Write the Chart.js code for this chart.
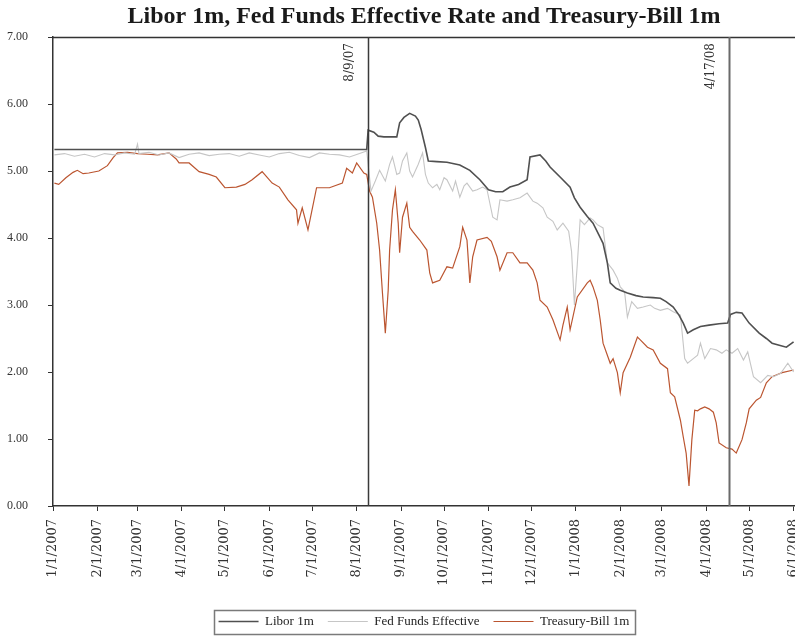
<!DOCTYPE html>
<html>
<head>
<meta charset="utf-8">
<script src="https://cdn.jsdelivr.net/npm/chart.js@4.4.1/dist/chart.umd.min.js"></script>
<style>
  html, body { margin: 0; padding: 0; background: #ffffff; }
  #wrap { width: 795px; height: 642px; position: relative; }
</style>
</head>
<body>
<div id="wrap"><canvas id="rates" width="795" height="642"></canvas></div>
<script>
// Month-start tick labels along the date axis
const monthTicks = [
  '1/1/2007', '2/1/2007', '3/1/2007', '4/1/2007', '5/1/2007', '6/1/2007',
  '7/1/2007', '8/1/2007', '9/1/2007', '10/1/2007', '11/1/2007', '12/1/2007',
  '1/1/2008', '2/1/2008', '3/1/2008', '4/1/2008', '5/1/2008', '6/1/2008'
];

// Marked event dates and their captions
const eventDates = ['2007-08-09', '2008-04-17'];
const eventLabels = ['8/9/07', '4/17/08'];

// Libor 1m (%)
const liborDates = [
  '2007-01-02', '2007-02-01', '2007-03-01', '2007-04-02', '2007-05-01', '2007-06-01',
  '2007-07-02', '2007-08-01', '2007-08-08',
  '2007-08-09', '2007-08-13', '2007-08-16', '2007-08-20', '2007-08-29', '2007-08-31',
  '2007-09-03', '2007-09-07', '2007-09-11', '2007-09-13', '2007-09-15', '2007-09-18',
  '2007-09-20', '2007-09-26', '2007-10-03', '2007-10-12', '2007-10-19', '2007-10-26',
  '2007-11-01', '2007-11-06', '2007-11-11', '2007-11-16', '2007-11-22', '2007-11-28',
  '2007-11-30', '2007-12-07', '2007-12-11', '2007-12-14', '2007-12-21', '2007-12-28',
  '2007-12-31', '2008-01-04', '2008-01-09', '2008-01-13', '2008-01-17', '2008-01-20',
  '2008-01-23', '2008-01-25', '2008-01-29', '2008-02-01', '2008-02-06', '2008-02-12',
  '2008-02-17', '2008-02-24', '2008-02-29', '2008-03-04', '2008-03-09', '2008-03-13',
  '2008-03-16', '2008-03-19', '2008-03-23', '2008-03-28', '2008-04-03', '2008-04-10',
  '2008-04-16', '2008-04-18', '2008-04-22', '2008-04-26', '2008-05-01', '2008-05-08',
  '2008-05-13', '2008-05-17', '2008-05-22', '2008-05-27', '2008-06-01'
];
const liborValues = [
  5.32, 5.32, 5.32, 5.32, 5.32, 5.32,
  5.32, 5.32, 5.32,
  5.61, 5.58, 5.52, 5.51, 5.51, 5.72,
  5.80, 5.86, 5.82, 5.76, 5.62, 5.35,
  5.15, 5.14, 5.13, 5.09, 5.01, 4.87,
  4.72, 4.69, 4.69, 4.76, 4.80, 4.87,
  5.21, 5.24, 5.15, 5.06, 4.91, 4.76,
  4.60, 4.46, 4.32, 4.22, 4.05, 3.92,
  3.63, 3.33, 3.25, 3.22, 3.18, 3.14,
  3.12, 3.11, 3.10, 3.05, 2.97, 2.85,
  2.73, 2.58, 2.63, 2.68, 2.70, 2.72,
  2.73, 2.86, 2.89, 2.88, 2.73, 2.58,
  2.50, 2.43, 2.40, 2.37, 2.45
];

// Fed Funds Effective (%)
const fedDates = [
  '2007-01-02', '2007-01-09', '2007-01-16', '2007-01-23', '2007-01-30', '2007-02-06',
  '2007-02-13', '2007-02-20', '2007-02-27', '2007-03-01', '2007-03-02', '2007-03-09',
  '2007-03-16', '2007-03-23', '2007-03-30', '2007-04-06', '2007-04-13', '2007-04-20',
  '2007-04-27', '2007-05-04', '2007-05-11', '2007-05-18', '2007-05-25', '2007-06-01',
  '2007-06-08', '2007-06-15', '2007-06-22', '2007-06-29', '2007-07-06', '2007-07-13',
  '2007-07-20', '2007-07-27', '2007-08-03', '2007-08-08',
  '2007-08-11', '2007-08-14', '2007-08-17', '2007-08-21', '2007-08-24', '2007-08-26',
  '2007-08-29', '2007-08-31', '2007-09-02', '2007-09-05', '2007-09-07', '2007-09-09',
  '2007-09-13', '2007-09-16', '2007-09-18', '2007-09-20', '2007-09-23', '2007-09-26',
  '2007-09-28', '2007-10-01', '2007-10-03', '2007-10-07', '2007-10-09', '2007-10-12',
  '2007-10-15', '2007-10-17', '2007-10-21', '2007-10-24', '2007-10-28', '2007-10-31',
  '2007-11-04', '2007-11-07', '2007-11-09', '2007-11-14', '2007-11-18', '2007-11-23',
  '2007-11-28', '2007-12-02', '2007-12-05', '2007-12-09', '2007-12-12', '2007-12-16',
  '2007-12-19', '2007-12-23', '2007-12-27', '2007-12-29', '2007-12-31', '2008-01-02',
  '2008-01-04', '2008-01-07', '2008-01-11', '2008-01-13', '2008-01-16', '2008-01-20',
  '2008-01-23', '2008-01-27', '2008-01-30', '2008-02-01', '2008-02-04', '2008-02-06',
  '2008-02-09', '2008-02-13', '2008-02-17', '2008-02-22', '2008-02-25', '2008-02-29',
  '2008-03-05', '2008-03-09', '2008-03-14', '2008-03-17', '2008-03-19', '2008-03-23',
  '2008-03-26', '2008-03-28', '2008-03-31', '2008-04-04', '2008-04-08', '2008-04-12',
  '2008-04-15', '2008-04-19', '2008-04-23', '2008-04-27', '2008-04-30', '2008-05-04',
  '2008-05-09', '2008-05-14', '2008-05-18', '2008-05-23', '2008-05-28', '2008-06-01'
];
const fedValues = [
  5.24, 5.26, 5.22, 5.25, 5.21, 5.26,
  5.24, 5.27, 5.25, 5.40, 5.26, 5.28,
  5.24, 5.27, 5.20, 5.25, 5.27, 5.23,
  5.25, 5.26, 5.22, 5.27, 5.24, 5.21,
  5.26, 5.28, 5.23, 5.20, 5.27, 5.25,
  5.24, 5.21, 5.26, 5.30,
  4.70, 4.85, 5.01, 4.85, 5.10, 5.21,
  4.95, 4.97, 5.15, 5.27, 5.00, 4.91,
  5.10, 5.27, 4.95, 4.82, 4.75, 4.80,
  4.72, 4.90, 4.87, 4.70, 4.85, 4.61,
  4.78, 4.82, 4.70, 4.72, 4.76, 4.72,
  4.31, 4.27, 4.57, 4.55, 4.57, 4.60,
  4.67, 4.55, 4.52, 4.45, 4.31, 4.25,
  4.12, 4.22, 4.10, 3.80, 3.00, 3.60,
  4.27, 4.20, 4.30, 4.27, 4.20, 4.15,
  3.63, 3.52, 3.40, 3.27, 3.20, 2.82,
  3.05, 2.95, 2.97, 3.00, 2.95, 2.92,
  2.95, 2.90, 2.85, 2.20, 2.13, 2.20,
  2.25, 2.43, 2.20, 2.35, 2.33, 2.28,
  2.33, 2.28, 2.35, 2.18, 2.30, 1.93,
  1.84, 1.95, 1.93, 1.98, 2.13, 2.00
];

// Treasury-Bill 1m (%)
const tbillDates = [
  '2007-01-02', '2007-01-05', '2007-01-10', '2007-01-15', '2007-01-18', '2007-01-22',
  '2007-01-26', '2007-02-02', '2007-02-08', '2007-02-12', '2007-02-15', '2007-02-22',
  '2007-03-01', '2007-03-08', '2007-03-15', '2007-03-23', '2007-03-28', '2007-03-30',
  '2007-04-06', '2007-04-13', '2007-04-20', '2007-04-25', '2007-05-01', '2007-05-09',
  '2007-05-15', '2007-05-20', '2007-05-27', '2007-06-03', '2007-06-08', '2007-06-14',
  '2007-06-20', '2007-06-21', '2007-06-24', '2007-06-28', '2007-07-04', '2007-07-13',
  '2007-07-22', '2007-07-25', '2007-07-29', '2007-08-01', '2007-08-06', '2007-08-08',
  '2007-08-10', '2007-08-12', '2007-08-15', '2007-08-17', '2007-08-19', '2007-08-21',
  '2007-08-23', '2007-08-24', '2007-08-26', '2007-08-28', '2007-08-30', '2007-08-31',
  '2007-09-02', '2007-09-05', '2007-09-07', '2007-09-09', '2007-09-14', '2007-09-19',
  '2007-09-21', '2007-09-23', '2007-09-28', '2007-10-03', '2007-10-07', '2007-10-12',
  '2007-10-14', '2007-10-17', '2007-10-19', '2007-10-21', '2007-10-24', '2007-10-31',
  '2007-11-03', '2007-11-07', '2007-11-09', '2007-11-14', '2007-11-18', '2007-11-23',
  '2007-11-28', '2007-12-02', '2007-12-05', '2007-12-07', '2007-12-12', '2007-12-16',
  '2007-12-21', '2007-12-23', '2007-12-26', '2007-12-28', '2008-01-02', '2008-01-09',
  '2008-01-11', '2008-01-13', '2008-01-16', '2008-01-18', '2008-01-20', '2008-01-25',
  '2008-01-27', '2008-01-30', '2008-02-01', '2008-02-03', '2008-02-08', '2008-02-13',
  '2008-02-15', '2008-02-20', '2008-02-24', '2008-02-29', '2008-03-05', '2008-03-07',
  '2008-03-10', '2008-03-14', '2008-03-16', '2008-03-18', '2008-03-20', '2008-03-22',
  '2008-03-24', '2008-03-26', '2008-03-28', '2008-03-31', '2008-04-03', '2008-04-06',
  '2008-04-08', '2008-04-10', '2008-04-15', '2008-04-19', '2008-04-22', '2008-04-26',
  '2008-04-29', '2008-05-01', '2008-05-06', '2008-05-09', '2008-05-13', '2008-05-17',
  '2008-05-24', '2008-06-01'
];
const tbillValues = [
  4.82, 4.80, 4.90, 4.98, 5.01, 4.96,
  4.97, 5.00, 5.08, 5.20, 5.27, 5.28,
  5.26, 5.25, 5.24, 5.27, 5.18, 5.12,
  5.12, 4.99, 4.95, 4.91, 4.75, 4.76,
  4.80, 4.87, 4.99, 4.82, 4.76, 4.57,
  4.42, 4.22, 4.45, 4.12, 4.75, 4.75,
  4.82, 5.04, 4.97, 5.12, 4.97, 4.95,
  4.70, 4.61, 4.22, 3.82, 3.18, 2.58,
  3.22, 3.82, 4.42, 4.72, 4.22, 3.78,
  4.31, 4.52, 4.16, 4.10, 3.97, 3.82,
  3.48, 3.33, 3.37, 3.57, 3.55, 3.87,
  4.16, 3.97, 3.33, 3.72, 3.97, 4.01,
  3.95, 3.72, 3.52, 3.78, 3.78, 3.63,
  3.63, 3.52, 3.33, 3.07, 2.97, 2.78,
  2.48, 2.70, 2.97, 2.63, 3.12, 3.33,
  3.37, 3.27, 3.07, 2.78, 2.43, 2.13,
  2.20, 1.99, 1.69, 1.99, 2.22, 2.52,
  2.48, 2.37, 2.33, 2.13, 2.05, 1.69,
  1.63, 1.28, 1.03, 0.79, 0.30, 0.99,
  1.43, 1.42, 1.45, 1.48, 1.45, 1.40,
  1.24, 0.94, 0.87, 0.85, 0.79, 0.99,
  1.24, 1.45, 1.58, 1.62, 1.84, 1.93,
  1.99, 2.03
];

const ORIGIN = Date.UTC(2007, 0, 1);
const MS_PER_DAY = 86400000;
// day number since 1 Jan 2007 from 'YYYY-MM-DD'
function dayOfIso(s) {
  const [y, m, d] = s.split('-').map(Number);
  return (Date.UTC(y, m - 1, d) - ORIGIN) / MS_PER_DAY;
}
// day number since 1 Jan 2007 from 'M/D/YYYY'
function dayOfUs(s) {
  const [m, d, y] = s.split('/').map(Number);
  return (Date.UTC(y, m - 1, d) - ORIGIN) / MS_PER_DAY;
}
function toPoints(dates, values) {
  return dates.map((d, i) => ({ x: dayOfIso(d), y: values[i] }));
}

const SERIF = "'Liberation Serif', 'Times New Roman', serif";
const WIDE_SERIF = "'DejaVu Serif', serif";

// Top frame line, event markers and the legend border
const decorations = {
  id: 'decorations',
  afterDatasetsDraw(chart) {
    const { ctx, chartArea: a, scales } = chart;
    ctx.save();
    ctx.strokeStyle = '#333333';
    ctx.lineWidth = 1.5;
    ctx.beginPath();
    ctx.moveTo(a.left, a.top + 0.5);
    ctx.lineTo(a.right, a.top + 0.5);
    ctx.stroke();

    eventDates.forEach((d, i) => {
      const x = Math.round(scales.x.getPixelForValue(dayOfIso(d))) + 0.5;
      ctx.strokeStyle = i === 0 ? '#3a3a3a' : '#6a6a6a';
      ctx.lineWidth = i === 0 ? 1.5 : 2;
      ctx.beginPath();
      ctx.moveTo(x, a.top);
      ctx.lineTo(x, a.bottom);
      ctx.stroke();

      ctx.save();
      ctx.translate(x - 19, a.top + 6);
      ctx.rotate(-Math.PI / 2);
      ctx.font = "12px " + WIDE_SERIF;
      ctx.fillStyle = '#333333';
      ctx.textAlign = 'right';
      ctx.textBaseline = 'middle';
      ctx.fillText(eventLabels[i], 0, 0);
      ctx.restore();
    });
    ctx.restore();
  },
  afterDraw(chart) {
    const boxes = chart.legend && chart.legend.legendHitBoxes;
    if (!boxes || !boxes.length) return;
    const { ctx } = chart;
    let left = Infinity, right = -Infinity, top = Infinity, bottom = -Infinity;
    boxes.forEach(b => {
      left = Math.min(left, b.left);
      right = Math.max(right, b.left + b.width);
      top = Math.min(top, b.top);
      bottom = Math.max(bottom, b.top + b.height);
    });
    ctx.save();
    ctx.strokeStyle = '#7a7a7a';
    ctx.lineWidth = 1.5;
    ctx.strokeRect(Math.round(left - 5) + 0.5, Math.round(top - 5) + 0.5,
                   Math.round(right - left + 10), Math.round(bottom - top + 11));
    ctx.restore();
  }
};

new Chart(document.getElementById('rates'), {
  type: 'line',
  data: {
    datasets: [
      {
        label: 'Libor 1m',
        data: toPoints(liborDates, liborValues),
        borderColor: '#505050',
        borderWidth: 1.6,
        pointRadius: 0,
        tension: 0
      },
      {
        label: 'Fed Funds Effective',
        data: toPoints(fedDates, fedValues),
        borderColor: '#c6c6c6',
        borderWidth: 1.1,
        pointRadius: 0,
        tension: 0
      },
      {
        label: 'Treasury-Bill 1m',
        data: toPoints(tbillDates, tbillValues),
        borderColor: '#bb5530',
        borderWidth: 1.2,
        pointRadius: 0,
        tension: 0
      }
    ]
  },
  options: {
    responsive: false,
    animation: false,
    devicePixelRatio: 1,
    layout: { padding: { top: 0, left: 0, right: 0, bottom: 4 } },
    scales: {
      x: {
        type: 'linear',
        min: 0,
        max: 518,
        afterBuildTicks: scale => {
          scale.ticks = monthTicks.map(t => ({ value: dayOfUs(t) }));
        },
        afterFit: scale => {
          scale.height = 95;
          scale.paddingLeft = 0;
          scale.paddingRight = 0;
        },
        ticks: {
          autoSkip: false,
          minRotation: 90,
          maxRotation: 90,
          padding: 8,
          color: '#333333',
          font: { family: WIDE_SERIF, size: 13 },
          callback: (value, index) => monthTicks[index]
        },
        grid: { drawOnChartArea: false, drawTicks: true, tickLength: 5, color: '#333333' },
        border: { color: '#333333', width: 1.5 }
      },
      y: {
        min: 0,
        max: 7,
        afterFit: scale => { scale.width = 53; },
        ticks: {
          stepSize: 1,
          padding: 20,
          color: '#333333',
          font: { family: SERIF, size: 12 },
          callback: v => v.toFixed(2)
        },
        grid: { drawOnChartArea: false, drawTicks: true, tickLength: 5, color: '#333333' },
        border: { color: '#333333', width: 1.5 }
      }
    },
    plugins: {
      title: {
        display: true,
        fullSize: false,
        text: 'Libor 1m, Fed Funds Effective Rate and Treasury-Bill 1m',
        color: '#1a1a1a',
        font: { family: SERIF, size: 24, weight: 'bold', lineHeight: 1.2 },
        padding: { top: 2, bottom: 6.2 }
      },
      legend: {
        display: true,
        position: 'bottom',
        fullSize: false,
        labels: {
          usePointStyle: true,
          pointStyle: 'line',
          pointStyleWidth: 40,
          padding: 14,
          color: '#222222',
          font: { family: SERIF, size: 13 }
        }
      },
      tooltip: { enabled: false }
    }
  },
  plugins: [decorations]
});
</script>
</body>
</html>
